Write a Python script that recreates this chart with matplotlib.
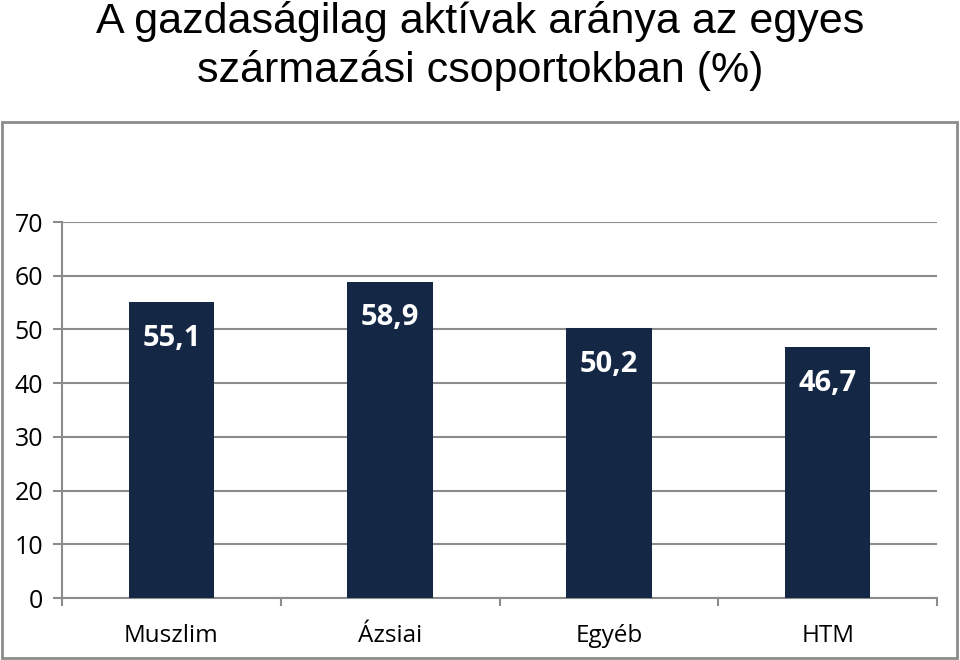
import matplotlib.pyplot as plt
from matplotlib.patches import Rectangle
import numpy as np

categories = ['Muszlim', 'Ázsiai', 'Egyéb', 'HTM']
values = [55.1, 58.9, 50.2, 46.7]
labels = ['55,1', '58,9', '50,2', '46,7']
yticks = [0, 10, 20, 30, 40, 50, 60, 70]

bar_color = '#142846'
gray = '#8c8c8c'

fig = plt.figure(figsize=(9.6, 6.6), dpi=100)
ax = fig.add_axes([62 / 960, 62 / 660, 875 / 960, 376 / 660])

x = np.arange(len(categories))
ax.bar(x, values, width=0.39, color=bar_color, zorder=3)

for xi, v, lab in zip(x, values, labels):
    ax.annotate(lab, (xi, v), xytext=(0, -26), textcoords='offset points',
                ha='center', va='center', color='white', fontsize=21,
                fontweight='bold', family='Open Sans', zorder=4)

ax.set_xlim(-0.5, len(categories) - 0.5)
ax.set_ylim(0, 70)
ax.set_yticks(yticks)
ax.set_yticklabels([str(t) for t in yticks], family='Open Sans', fontsize=18)
ax.yaxis.grid(True, color=gray, linewidth=1.5, zorder=0)

ax.set_xticks(x)
ax.set_xticklabels(categories, family='Open Sans', fontsize=17.5)
ax.set_xticks(np.arange(-0.5, len(categories)), minor=True)
ax.tick_params(axis='x', which='major', length=0, pad=19)
ax.tick_params(axis='x', which='minor', length=6, width=1.5, color=gray)
ax.tick_params(axis='y', length=6.5, width=1.5, color=gray, pad=7)

for side in ['top', 'right']:
    ax.spines[side].set_visible(False)
for side in ['left', 'bottom']:
    ax.spines[side].set_color(gray)
    ax.spines[side].set_linewidth(1.5)

fig.patches.append(Rectangle((2 / 960, 2 / 660), 955 / 960, 536 / 660,
                             transform=fig.transFigure, fill=False,
                             edgecolor=gray, linewidth=2))

fig.text(0.5, 1 - 46 / 660, 'A gazdaságilag aktívak aránya az egyes\nszármazási csoportokban (%)',
         ha='center', va='center', fontsize=31, family='Liberation Sans',
         linespacing=1.25)

fig.savefig('out.png', dpi=100)
